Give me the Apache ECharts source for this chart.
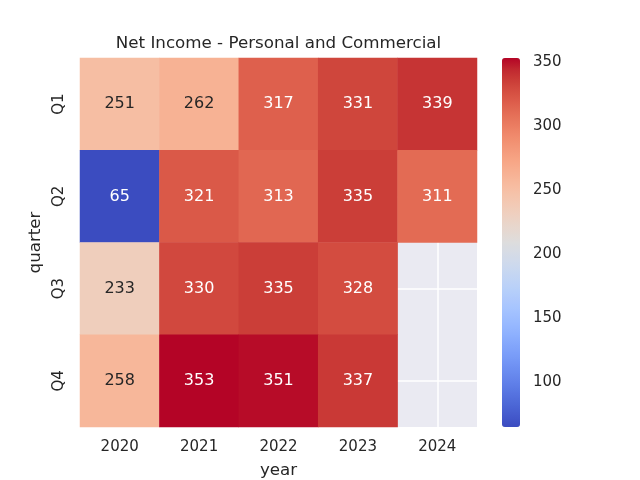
<!DOCTYPE html>
<html>
<head>
<meta charset="utf-8">
<script src="https://cdn.jsdelivr.net/npm/echarts@6/dist/echarts.min.js"></script>
<style>html,body{margin:0;padding:0;background:#fff}#c{width:640px;height:480px}</style>
</head>
<body>
<div id="c"></div>
<script>
const years = ['2020', '2021', '2022', '2023', '2024'];
const quarters = ['Q1', 'Q2', 'Q3', 'Q4'];
// values per quarter row, per year column (null = missing)
const q1 = [251, 262, 317, 331, 339];
const q2 = [65, 321, 313, 335, 311];
const q3 = [233, 330, 335, 328, null];
const q4 = [258, 353, 351, 337, null];
const colorbarTicks = [100, 150, 200, 250, 300, 350];
const vmin = 65, vmax = 353;

const coolwarm = [
 [59,76,192],[68,90,204],[77,104,215],[87,117,225],[98,130,234],[108,142,241],[119,154,247],[130,165,251],
 [141,176,254],[152,185,255],[163,194,255],[174,201,253],[184,208,249],[194,213,244],[204,217,238],[213,219,230],
 [221,221,221],[229,216,209],[236,211,197],[241,204,184],[245,196,172],[247,187,159],[247,177,147],[247,166,134],
 [244,154,123],[241,141,111],[236,127,99],[229,112,88],[222,96,77],[213,80,66],[203,62,56],[192,40,47],[180,4,38]
];
const cwHex = coolwarm.map(c => '#' + c.map(v => v.toString(16).padStart(2, '0')).join(''));
function cmap(v) {
  const t = Math.max(0, Math.min(1, (v - vmin) / (vmax - vmin))) * (coolwarm.length - 1);
  const i = Math.min(Math.floor(t), coolwarm.length - 2), f = t - i;
  return coolwarm[i].map((c, k) => c + (coolwarm[i + 1][k] - c) * f);
}
function lum(rgb) {
  const l = rgb.map(c => { c /= 255; return c <= 0.03928 ? c / 12.92 : Math.pow((c + 0.055) / 1.055, 2.4); });
  return 0.2126 * l[0] + 0.7152 * l[1] + 0.0722 * l[2];
}
const rows = [q1, q2, q3, q4];
const data = [];
rows.forEach((row, r) => row.forEach((v, c) => {
  if (v === null) return;
  data.push({ value: [c, r, v], label: { color: lum(cmap(v)) > 0.408 ? '#262626' : '#ffffff' } });
}));

const FONT = 'DejaVu Sans';
const chart = echarts.init(document.getElementById('c'), null, { renderer: 'canvas' });
chart.setOption({
  backgroundColor: '#ffffff',
  animation: false,
  textStyle: { fontFamily: FONT },
  title: {
    text: 'Net Income - Personal and Commercial',
    left: 278.5, top: 35, textAlign: 'center', padding: 0,
    textStyle: { fontFamily: FONT, fontSize: 16.7, fontWeight: 'normal', color: '#262626' }
  },
  grid: [
    { left: 80, top: 58, width: 397, height: 369, show: true, backgroundColor: '#eaeaf2', borderWidth: 0, outerBoundsMode: 'none', containLabel: false },
    { left: 502, top: 58, width: 18, height: 369, show: false, outerBoundsMode: 'none', containLabel: false }
  ],
  xAxis: [
    { type: 'category', data: years, gridIndex: 0, position: 'bottom',
      axisLine: { show: false }, axisTick: { show: false }, splitLine: { show: false },
      axisLabel: { color: '#262626', fontSize: 15, fontFamily: FONT, margin: 13 },
      name: 'year', nameLocation: 'middle', nameGap: 35,
      nameTextStyle: { color: '#262626', fontSize: 16.7, fontFamily: FONT } },
    { type: 'value', gridIndex: 0, min: 0, max: 10, interval: 1,
      axisLine: { show: false }, axisTick: { show: false }, axisLabel: { show: false },
      splitLine: { show: true, lineStyle: { color: ['rgba(0,0,0,0)', '#ffffff'], width: 1.5 } } },
    { type: 'value', gridIndex: 1, show: false, min: 0, max: 1 }
  ],
  yAxis: [
    { type: 'category', data: quarters, gridIndex: 0, inverse: true,
      axisLine: { show: false }, axisTick: { show: false }, splitLine: { show: false },
      axisLabel: { color: '#262626', fontSize: 15, fontFamily: FONT, rotate: 90, margin: 13 },
      name: 'quarter', nameLocation: 'middle', nameGap: 33, nameRotate: 90,
      nameTextStyle: { color: '#262626', fontSize: 16.7, fontFamily: FONT } },
    { type: 'value', gridIndex: 0, min: 0, max: 8, interval: 1,
      axisLine: { show: false }, axisTick: { show: false }, axisLabel: { show: false },
      splitLine: { show: true, lineStyle: { color: ['rgba(0,0,0,0)', '#ffffff'], width: 1.5 } } },
    { type: 'value', gridIndex: 1, min: vmin, max: vmax, position: 'right',
      axisLine: { show: false }, splitLine: { show: false },
      axisTick: { show: true, customValues: colorbarTicks, length: 6, lineStyle: { color: '#262626', width: 1.2 } },
      axisLabel: { show: true, customValues: colorbarTicks, color: '#262626', fontSize: 15, fontFamily: FONT, margin: 13 } }
  ],
  visualMap: {
    type: 'continuous', seriesIndex: 0, min: vmin, max: vmax,
    left: 502, top: 58, itemWidth: 18, itemHeight: 369, padding: 0,
    calculable: false, showLabel: false, text: null,
    inRange: { color: cwHex }
  },
  series: [{
    type: 'heatmap', xAxisIndex: 0, yAxisIndex: 0, data: data,
    label: { show: true, fontSize: 16, fontFamily: FONT, formatter: p => String(p.value[2]) },
    itemStyle: { borderWidth: 0 },
    emphasis: { disabled: true }
  }]
});
</script>
</body>
</html>
